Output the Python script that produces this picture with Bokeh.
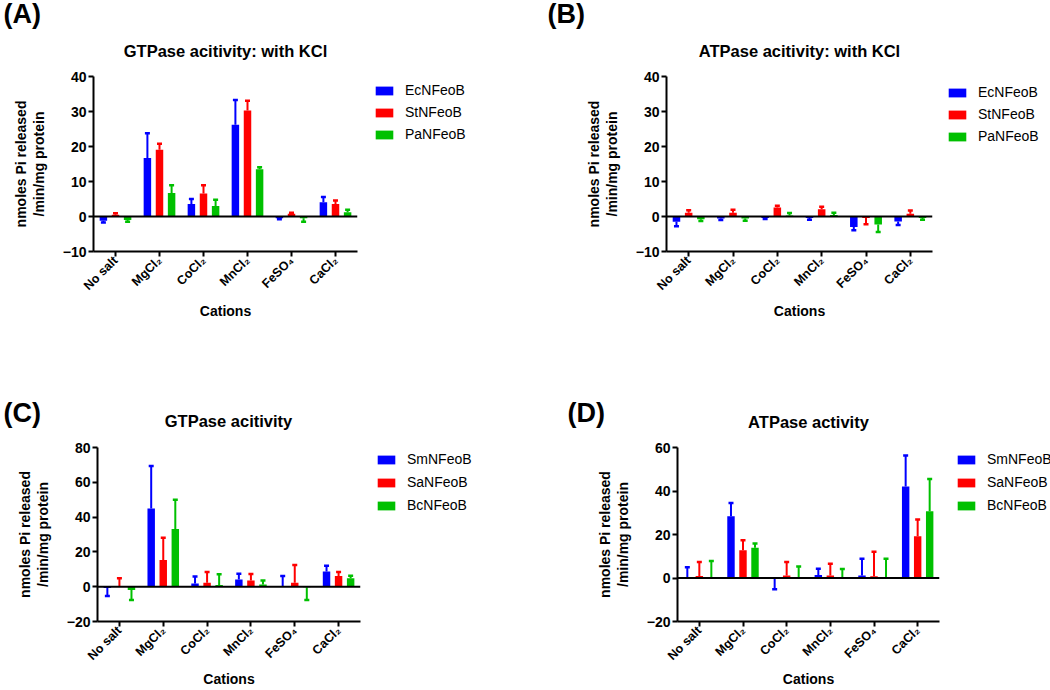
import math
from bokeh.plotting import figure
from bokeh.models import (FactorRange, Range1d, Span, Legend, LegendItem, Label,
                          FixedTicker, ColumnDataSource, Spacer)
from bokeh.transform import dodge
from bokeh.layouts import row, column
from bokeh.embed import file_html
from bokeh.resources import INLINE

# ---------------- data ----------------
cations = ["No salt", "MgCl\u2082", "CoCl\u2082", "MnCl\u2082", "FeSO\u2084", "CaCl\u2082"]

# (A) GTPase activity with KCl
A_series = ["EcNFeoB", "StNFeoB", "PaNFeoB"]
A_Ec = [-1.2, 16.7, 3.6, 26.2, -0.5, 4.1]
A_Ec_sd = [0.5, 7.1, 1.4, 7.1, 0.3, 1.5]
A_St = [0.5, 19.1, 6.6, 30.3, 0.8, 3.6]
A_St_sd = [0.4, 1.7, 2.3, 2.8, 0.3, 1.0]
A_Pa = [-1.0, 6.7, 3.0, 13.5, -0.5, 1.2]
A_Pa_sd = [0.5, 2.2, 1.8, 0.6, 1.0, 0.7]

# (B) ATPase activity with KCl
B_series = ["EcNFeoB", "StNFeoB", "PaNFeoB"]
B_Ec = [-1.5, -0.6, -0.4, -0.4, -3.0, -1.4]
B_Ec_sd = [1.3, 0.4, 0.3, 0.5, 0.9, 1.0]
B_St = [1.1, 1.1, 2.6, 2.1, -0.4, 0.8]
B_St_sd = [0.7, 0.8, 0.5, 0.7, 1.8, 0.9]
B_Pa = [-0.8, -0.6, 0.3, 0.4, -2.3, -0.4]
B_Pa_sd = [0.5, 0.6, 0.7, 0.7, 2.1, 0.5]

# (C) GTPase activity
C_series = ["SmNFeoB", "SaNFeoB", "BcNFeoB"]
C_Sm = [-0.8, 44.9, 1.9, 4.2, 0.3, 8.8]
C_Sm_sd = [4.6, 24.4, 4.0, 3.3, 5.8, 3.3]
C_Sa = [0.2, 15.4, 2.3, 3.5, 2.3, 6.1]
C_Sa_sd = [4.6, 12.8, 6.1, 3.8, 10.2, 2.3]
C_Bc = [-1.9, 33.2, 1.0, 1.3, -0.3, 4.8]
C_Bc_sd = [5.8, 16.7, 6.1, 2.2, 7.4, 1.5]

# (D) ATPase activity
D_series = ["SmNFeoB", "SaNFeoB", "BcNFeoB"]
D_Sm = [0.3, 28.4, -0.4, 1.4, 1.2, 42.1]
D_Sm_sd = [4.7, 6.1, 4.8, 2.9, 7.7, 14.2]
D_Sa = [0.9, 12.8, 1.2, 1.1, 0.8, 19.2]
D_Sa_sd = [6.4, 4.6, 6.1, 5.5, 11.3, 7.7]
D_Bc = [0.2, 13.9, 0.1, 0.1, 0.1, 30.7]
D_Bc_sd = [7.6, 2.0, 5.2, 4.0, 8.8, 14.8]

A_ticks = [-10, 0, 10, 20, 30, 40]
B_ticks = [-10, 0, 10, 20, 30, 40]
C_ticks = [-20, 0, 20, 40, 60, 80]
D_ticks = [-20, 0, 20, 40, 60]

titles = ["GTPase acitivity: with KCl", "ATPase acitivity: with KCl",
          "GTPase acitivity", "ATPase activity"]
tags = ["(A)", "(B)", "(C)", "(D)"]

# ---------------- style ----------------
FONT = "Liberation Sans"
COLORS = ["#0000FF", "#FF0000", "#00C000"]
OFFSETS = [-0.275, 0.0, 0.275]
BAR_W = 0.17


def blank(w, h):
    """A figure with no axes whose frame fills the whole canvas."""
    f = figure(width=w, height=h, x_range=Range1d(0, 1), y_range=Range1d(0, 1),
               x_axis_type=None, y_axis_type=None, output_backend="svg",
               toolbar_location=None, min_border=0)
    f.outline_line_color = None
    f.grid.visible = False
    return f


def make_chart(vals, sds, ticks, size, borders, xlab_standoff):
    w, h = size
    bl, br, bt, bb = borders
    p = figure(width=w, height=h, x_range=FactorRange(*cations),
               y_range=Range1d(ticks[0], ticks[-1]),
               output_backend="svg", toolbar_location=None,
               min_border_left=bl, min_border_right=br,
               min_border_top=bt, min_border_bottom=bb)
    p.outline_line_color = None
    p.xgrid.grid_line_color = None
    p.ygrid.grid_line_color = None

    for ax in (p.xaxis[0], p.yaxis[0]):
        ax.axis_line_width = 2
        ax.axis_line_color = "black"
        ax.major_tick_line_width = 2
        ax.major_tick_line_color = "black"
        ax.major_tick_in = 0
        ax.major_tick_out = 5
        ax.minor_tick_line_color = None
        ax.major_label_text_font = FONT
        ax.major_label_text_font_style = "bold"
        ax.major_label_text_color = "black"
        ax.axis_label_text_font = FONT
        ax.axis_label_text_font_style = "bold"
        ax.axis_label_text_font_size = "14px"
        ax.axis_label_text_color = "black"

    p.yaxis.ticker = FixedTicker(ticks=ticks)
    p.yaxis.major_label_text_font_size = "14px"
    p.yaxis.major_label_standoff = 2
    p.yaxis.axis_label = "nmoles Pi released\n/min/mg protein"
    p.yaxis.axis_label_standoff = 13
    p.yaxis.axis_label_text_line_height = 1.1

    p.xaxis.major_label_text_font_size = "12.5px"
    p.xaxis.major_label_orientation = math.pi / 4
    p.xaxis.major_label_standoff = 2
    p.xaxis.axis_label = "Cations"
    p.xaxis.axis_label_standoff = xlab_standoff

    for v, sd, col, off in zip(vals, sds, COLORS, OFFSETS):
        tip = [a + s if a >= 0 else a - s for a, s in zip(v, sd)]
        src = ColumnDataSource(dict(cat=cations, v=v, tip=tip))
        xd = dodge("cat", off, range=p.x_range)
        p.vbar(x=xd, top="v", bottom=0, width=BAR_W, source=src,
               fill_color=col, line_color=None)
        p.segment(x0=xd, y0="v", x1=xd, y1="tip", source=src,
                  line_color=col, line_width=2)
        p.scatter(x=xd, y="tip", source=src, marker="dash", size=5,
                  line_color=col, line_width=2.5)

    p.add_layout(Span(location=0, dimension="width", line_color="black",
                      line_width=2))
    return p


def make_legend(names, w, h, gap_top, margin, spacing):
    f = blank(w, h - gap_top)
    items = []
    for name, col in zip(names, COLORS):
        # legend key only: a zero-height bar outside the (empty) frame range
        r = f.vbar(x=[-1.0], top=[0.0], bottom=[0.0], width=0.1,
                   fill_color=col, line_color=None)
        items.append(LegendItem(label=name, renderers=[r]))
    f.add_layout(Legend(items=items, location="top_left", orientation="vertical",
                        glyph_width=22, glyph_height=11, label_height=16,
                        spacing=spacing, label_standoff=10, padding=0,
                        margin=margin, border_line_color=None,
                        background_fill_alpha=0,
                        label_text_font=FONT, label_text_font_size="14px",
                        label_text_color="black"))
    return column(Spacer(width=w, height=gap_top), f)


def make_strip(h, entries):
    f = blank(1050, h)
    for text, x, y, align, size in entries:
        f.add_layout(Label(x=x, y=y, x_units="screen", y_units="screen",
                           text=text, text_font=FONT, text_font_style="bold",
                           text_font_size=size, text_align=align,
                           text_baseline="middle", text_color="black"))
    return f


TAG = "27px"
TTL = "16.5px"
top_strip = make_strip(64, [(tags[0], 3, 51, "left", TAG),
                            (titles[0], 225, 14, "center", TTL),
                            (tags[1], 547, 51, "left", TAG),
                            (titles[1], 799, 14, "center", TTL)])
bottom_strip = make_strip(97, [(tags[2], 3, 25, "left", TAG),
                               (titles[2], 228, 17, "center", TTL),
                               (tags[3], 567, 25, "left", TAG),
                               (titles[3], 808, 16, "center", TTL)])

pA = make_chart([A_Ec, A_St, A_Pa], [A_Ec_sd, A_St_sd, A_Pa_sd], A_ticks,
                (370, 276), (93, 13, 12, 89), 2)
lA = make_legend(A_series, 155, 276, 15, 3, 6)
pB = make_chart([B_Ec, B_St, B_Pa], [B_Ec_sd, B_St_sd, B_Pa_sd], B_ticks,
                (420, 276), (141, 13, 12, 88), 2)
lB = make_legend(B_series, 105, 276, 19, 1, 6)
pC = make_chart([C_Sm, C_Sa, C_Bc], [C_Sm_sd, C_Sa_sd, C_Bc_sd], C_ticks,
                (370, 253), (97, 10, 10, 69), 0)
lC = make_legend(C_series, 155, 253, 9, 5, 7)
pD = make_chart([D_Sm, D_Sa, D_Bc], [D_Sm_sd, D_Sa_sd, D_Bc_sd], D_ticks,
                (425, 253), (152, 11, 10, 69), 0)
lD = make_legend(D_series, 100, 253, 9, 5, 7)

layout = column(top_strip, row(pA, lA, pB, lB), bottom_strip, row(pC, lC, pD, lD))

with open("out.html", "w") as f:
    f.write(file_html(layout, INLINE))
